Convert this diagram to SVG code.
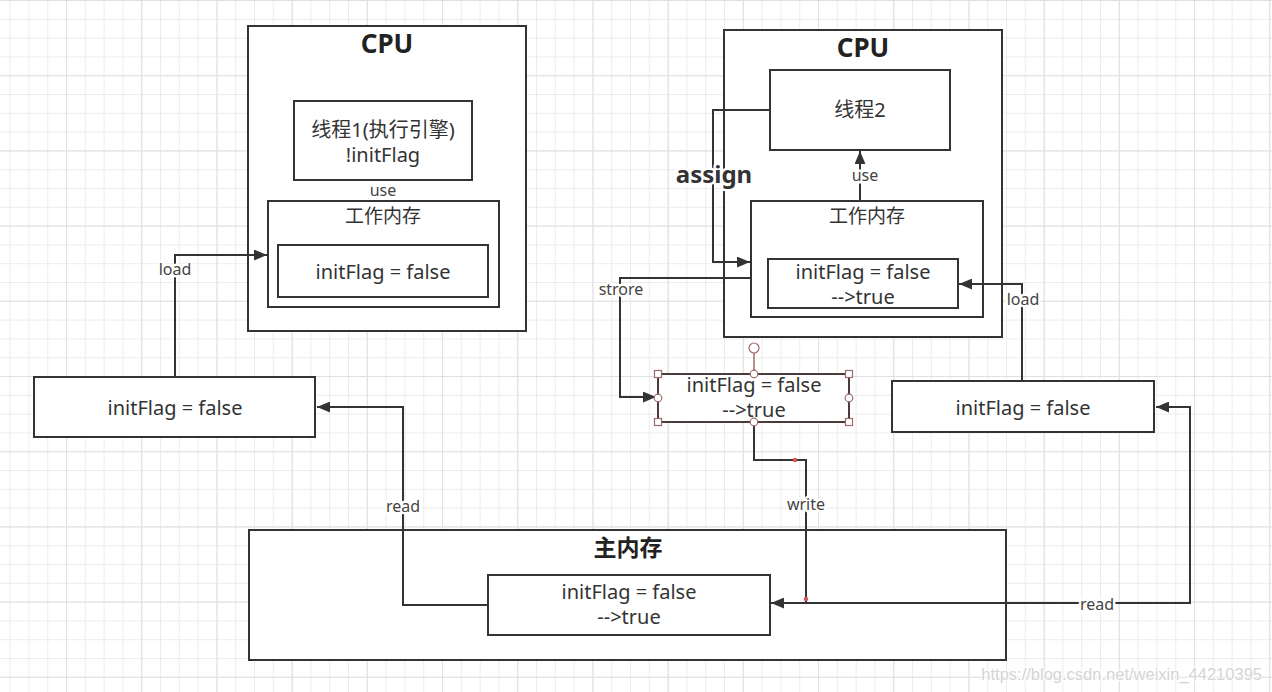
<svg xmlns="http://www.w3.org/2000/svg" width="1272" height="692" viewBox="0 0 1272 692">
<style>
.box{fill:#fff;stroke:#333;stroke-width:2}
.t{font-family:"Noto Sans","Noto Sans CJK SC",sans-serif;font-size:20px;fill:#333;text-anchor:middle}
.h{font-family:"Noto Sans","Noto Sans CJK SC",sans-serif;font-size:26px;font-weight:bold;fill:#222;text-anchor:middle}
.lbl{font-family:"Noto Sans","Noto Sans CJK SC",sans-serif;font-size:16px;fill:#444;text-anchor:middle;stroke:#fff;stroke-width:5px;paint-order:stroke;stroke-linejoin:round}
.edge{fill:none;stroke:#333;stroke-width:2}
.hd{fill:#fff;stroke:#a06a6a;stroke-width:1.2}
</style>
<defs>
<pattern id="minor" width="18.8" height="18.8" patternUnits="userSpaceOnUse" x="9.6" y="0"><path d="M0 0.5H18.8M0.5 0V18.8" stroke="#ececec" stroke-width="1" fill="none"/></pattern>
<pattern id="major" width="75.2" height="75.2" patternUnits="userSpaceOnUse" x="66" y="0"><path d="M0 0.5H75.2M0.5 0V75.2" stroke="#e0e0e0" stroke-width="1.2" fill="none"/></pattern>
<marker id="arr" viewBox="0 0 12 10" refX="12" refY="5" markerWidth="13" markerHeight="11" markerUnits="userSpaceOnUse" orient="auto"><path d="M0 0L12 5L0 10z" fill="#333"/></marker>
</defs>
<rect width="1272" height="692" fill="#fff"/>
<rect width="1272" height="692" fill="url(#minor)"/>
<rect width="1272" height="692" fill="url(#major)"/>

<g id="cpu1">
<rect class="box" x="248" y="26" width="278" height="305"/>
<text class="h" x="387" y="53">CPU</text>
</g>
<g id="thread1">
<rect class="box" x="294" y="101" width="178" height="79"/>
<text class="t" x="383" y="137">线程1(执行引擎)</text>
<text class="t" x="383" y="162">!initFlag</text>
</g>
<g id="wm1">
<rect class="box" x="268" y="201" width="231" height="106"/>
<text class="t" x="383" y="223" style="font-size:19px">工作内存</text>
</g>
<g id="wm1var">
<rect class="box" x="278" y="245" width="210" height="52"/>
<text class="t" x="383" y="279">initFlag = false</text>
</g>

<g id="cpu2">
<rect class="box" x="724" y="30" width="278" height="307"/>
<text class="h" x="863" y="57">CPU</text>
</g>
<g id="thread2">
<rect class="box" x="770" y="70" width="180" height="80"/>
<text class="t" x="860" y="117">线程2</text>
</g>
<g id="wm2">
<rect class="box" x="751" y="201" width="232" height="116"/>
<text class="t" x="867" y="223" style="font-size:19px">工作内存</text>
</g>
<g id="wm2var">
<rect class="box" x="768" y="259" width="190" height="49"/>
<text class="t" x="863" y="279">initFlag = false</text>
<text class="t" x="863" y="304">--&gt;true</text>
</g>

<g id="leftvar">
<rect class="box" x="34" y="377" width="281" height="60"/>
<text class="t" x="175" y="415">initFlag = false</text>
</g>
<g id="rightvar">
<rect class="box" x="892" y="381" width="262" height="51"/>
<text class="t" x="1023" y="415">initFlag = false</text>
</g>

<g id="mainmem">
<rect class="box" x="249" y="530" width="757" height="130"/>
<text class="h" x="628" y="556" style="font-size:23px">主内存</text>
</g>
<g id="mainvar">
<rect class="box" x="488" y="575" width="282" height="60"/>
<text class="t" x="629" y="599">initFlag = false</text>
<text class="t" x="629" y="624">--&gt;true</text>
</g>

<g id="connectors">
<path class="edge" d="M175 377V255H267" marker-end="url(#arr)"/>
<path class="edge" d="M488 605H403V407H317" marker-end="url(#arr)"/>
<path class="edge" d="M860 201V151" marker-end="url(#arr)"/>
<path class="edge" d="M770 110H713V262H750" marker-end="url(#arr)"/>
<path class="edge" d="M751 278H620V397H656" marker-end="url(#arr)"/>
<path class="edge" d="M754 422V460H806V603H771" marker-end="url(#arr)"/>
<path class="edge" d="M806 603H1190V407H1156" marker-end="url(#arr)"/>
<path class="edge" d="M1022 381V284H959" marker-end="url(#arr)"/>
<circle cx="795" cy="460" r="2.2" fill="#e05050"/>
<circle cx="806" cy="599" r="2.2" fill="#e05050"/>
<text class="lbl" x="175" y="275">load</text>
<text class="lbl" x="403" y="512">read</text>
<text class="lbl" x="383" y="196">use</text>
<text class="lbl" x="865" y="181">use</text>
<text class="lbl" x="714" y="183" style="font-size:24px;font-weight:bold;fill:#333">assign</text>
<text class="lbl" x="621" y="295">strore</text>
<text class="lbl" x="806" y="510">write</text>
<text class="lbl" x="1097" y="610">read</text>
<text class="lbl" x="1023" y="305">load</text>
</g>

<g id="selected">
<rect x="658" y="374" width="191" height="48" fill="#fff" stroke="#4a3a3a" stroke-width="2"/>
<text class="t" x="754" y="392">initFlag = false</text>
<text class="t" x="754" y="417">--&gt;true</text>
<line x1="754" y1="353" x2="754" y2="370" stroke="#a06a6a" stroke-width="1.5"/>
<circle class="hd" cx="754" cy="348" r="5"/>
<rect class="hd" x="654.5" y="370.5" width="7" height="7"/>
<rect class="hd" x="845.5" y="370.5" width="7" height="7"/>
<rect class="hd" x="654.5" y="418.5" width="7" height="7"/>
<rect class="hd" x="845.5" y="418.5" width="7" height="7"/>
<circle class="hd" cx="754" cy="374" r="3.8"/>
<circle class="hd" cx="754" cy="422" r="3.8"/>
<circle class="hd" cx="658" cy="398" r="3.8"/>
<circle class="hd" cx="849" cy="398" r="3.8"/>
</g>

<text x="1262" y="680" text-anchor="end" style="font-family:'Liberation Sans',sans-serif;font-size:16.5px;fill:#d4d4d4;stroke:#fff;stroke-width:2px;paint-order:stroke">https://blog.csdn.net/weixin_44210395</text>
</svg>
